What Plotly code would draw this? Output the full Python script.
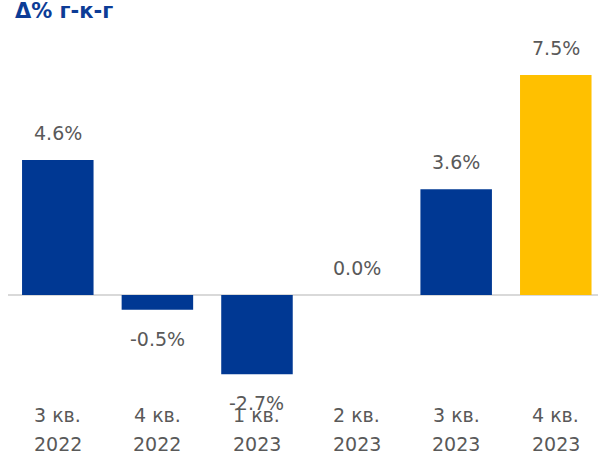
import plotly.graph_objects as go

quarters = ["3 кв.", "4 кв.", "1 кв.", "2 кв.", "3 кв.", "4 кв."]
years = ["2022", "2022", "2023", "2023", "2023", "2023"]
values = [4.6, -0.5, -2.7, 0.0, 3.6, 7.5]
colors = ["#003893", "#003893", "#003893", "#003893", "#003893", "#FFC000"]
title_text = "Δ% г-к-г"

W, H = 598, 456
zero_px = 295.0
scale = 29.35  # px per unit
y_top = zero_px / scale
y_bot = -(H - zero_px) / scale

xs = list(range(len(values)))
fig = go.Figure()
fig.add_trace(go.Bar(x=xs, y=values, marker=dict(color=colors, line=dict(width=0)),
                     width=0.718, hoverinfo="skip"))

font_main = "DejaVu Sans"
gray = "#595959"
fs = 19
ann = []
for i, v in enumerate(values):
    ann.append(dict(x=i, y=v, xref="x", yref="y", text=f"{v:.1f}%", showarrow=False,
                    yshift=(-29 if v < 0 else 27), yanchor="middle",
                    font=dict(family=font_main, size=fs, color=gray)))
    ann.append(dict(x=i, y=-(415 - zero_px) / scale, xref="x", yref="y", text=quarters[i],
                    showarrow=False, yanchor="middle",
                    font=dict(family=font_main, size=fs, color=gray)))
    ann.append(dict(x=i, y=-(444 - zero_px) / scale, xref="x", yref="y", text=years[i],
                    showarrow=False, yanchor="middle",
                    font=dict(family=font_main, size=fs, color=gray)))

fig.update_layout(
    width=W, height=H,
    margin=dict(l=8, r=0, t=0, b=0),
    paper_bgcolor="white", plot_bgcolor="white",
    showlegend=False,
    xaxis=dict(range=[-0.5, 5.424], showticklabels=False, showgrid=False, zeroline=False,
               fixedrange=True),
    yaxis=dict(range=[y_bot, y_top], showticklabels=False, showgrid=False, zeroline=True,
               zerolinecolor="#d9d9d9", zerolinewidth=2, fixedrange=True),
    annotations=ann,
    title=dict(text=f"<b>{title_text}</b>", x=15 / W, xanchor="left", y=1 - 11 / H,
               yanchor="middle", font=dict(family="DejaVu Sans", size=21, color="#0c3c96")),
)
fig.write_html("out.html", config={"displayModeBar": False},
               post_script="document.body.style.margin='0';document.body.style.overflow='hidden';")
